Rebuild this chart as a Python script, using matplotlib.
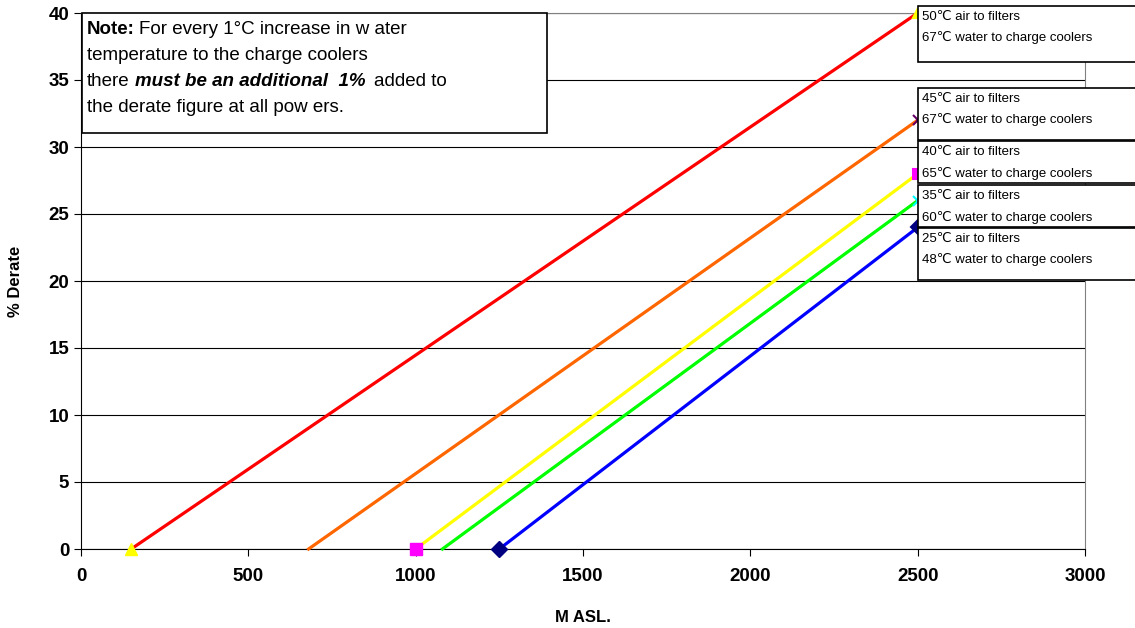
import matplotlib
matplotlib.use("Agg")
import matplotlib.pyplot as plt
from matplotlib.patches import Rectangle

plt.rcParams['font.family'] = ['Liberation Sans', 'DejaVu Sans']

# data: each derate line goes from (start, 0) to (2500, end)
air_labels = ["50\u2103 air to filters", "45\u2103 air to filters", "40\u2103 air to filters",
              "35\u2103 air to filters", "25\u2103 air to filters"]
water_labels = ["67\u2103 water to charge coolers", "67\u2103 water to charge coolers",
                "65\u2103 water to charge coolers", "60\u2103 water to charge coolers",
                "48\u2103 water to charge coolers"]
x_start = [150, 680, 1000, 1080, 1250]
x_end = [2500, 2500, 2500, 2500, 2500]
y_start = [0, 0, 0, 0, 0]
y_end = [40, 32, 28, 26, 24]
colors = ["#ff0000", "#ff6600", "#ffff00", "#00ff00", "#0000ff"]
markers = ["^", "x", "s", "x", "D"]
marker_colors = ["#ffff00", "#660066", "#ff00ff", "#00ffff", "#000080"]
start_marker = [True, False, True, False, True]

W, H = 1135, 628
fig = plt.figure(figsize=(W / 100, H / 100), dpi=100)
ax = fig.add_axes([81 / W, 1 - 549 / H, (1085 - 81) / W, (549 - 13) / H])

for i in range(5):
    ax.plot([x_start[i], x_end[i]], [y_start[i], y_end[i]], color=colors[i],
            lw=2.3, zorder=3, clip_on=False)
    ax.plot([x_end[i]], [y_end[i]], marker=markers[i], color=marker_colors[i],
            ms=7, mew=1.5, ls="none", zorder=4, clip_on=False)
    if start_marker[i]:
        ax.plot([x_start[i]], [y_start[i]], marker=markers[i], color=marker_colors[i],
                ms=8, ls="none", zorder=4, clip_on=False)

ax.set_xlim(0, 3000)
ax.set_ylim(0, 40)
ax.set_xticks(range(0, 3001, 500))
ax.set_yticks(range(0, 41, 5))
ax.yaxis.grid(True, color="black", lw=0.8)
ax.set_axisbelow(True)
ax.tick_params(labelsize=13.5, length=5, width=0.8, direction="out")
ax.tick_params(axis="x", pad=9)
for lab in ax.get_xticklabels() + ax.get_yticklabels():
    lab.set_fontweight("bold")
ax.spines["top"].set_color("#808080")
ax.spines["right"].set_color("#808080")
ax.spines["left"].set_color("black")
ax.spines["bottom"].set_color("black")
ax.set_xlabel("M ASL.", fontsize=12, fontweight="bold", labelpad=18)
ax.set_ylabel("% Derate", fontsize=12, fontweight="bold", labelpad=18)

# note box
fig.patches.append(Rectangle((82 / W, 1 - 133 / H), (547 - 82) / W, (133 - 13) / H,
                             transform=fig.transFigure, fc="white", ec="black",
                             lw=1.2, zorder=5))
note_y = [30, 56, 82, 108]
fs = 13.5
fig.text(87 / W, 1 - note_y[0] / H, "Note:", fontsize=fs, fontweight="bold", va="center", zorder=6)
fig.text(139 / W, 1 - note_y[0] / H, "For every 1\u00b0C increase in w ater", fontsize=fs, va="center", zorder=6)
fig.text(87 / W, 1 - note_y[1] / H, "temperature to the charge coolers", fontsize=fs, va="center", zorder=6)
fig.text(87 / W, 1 - note_y[2] / H, "there", fontsize=fs, va="center", zorder=6)
bold = fig.text(135 / W, 1 - note_y[2] / H, "must be an additional  1%", fontsize=fs, va="center",
                fontweight="bold", style="italic", zorder=6)
fig.canvas.draw()
bend = bold.get_window_extent().x1
fig.text((bend + 8) / W, 1 - note_y[2] / H, "added to", fontsize=fs, va="center", zorder=6)
fig.text(87 / W, 1 - note_y[3] / H, "the derate figure at all pow ers.", fontsize=fs, va="center", zorder=6)

# label boxes on the right
box_top = [6, 88, 141, 185, 228]
box_bot = [62, 140, 183, 227, 280]
for i in range(5):
    fig.patches.append(Rectangle((918 / W, 1 - box_bot[i] / H), 260 / W,
                                 (box_bot[i] - box_top[i]) / H,
                                 transform=fig.transFigure, fc="white", ec="black",
                                 lw=1.2, zorder=5))
    fig.text(922 / W, 1 - (box_top[i] + 11) / H, air_labels[i], fontsize=9.5,
             va="center", zorder=6)
    fig.text(922 / W, 1 - (box_top[i] + 32) / H, water_labels[i], fontsize=9.5,
             va="center", zorder=6)

fig.savefig("out.png", dpi=100)
